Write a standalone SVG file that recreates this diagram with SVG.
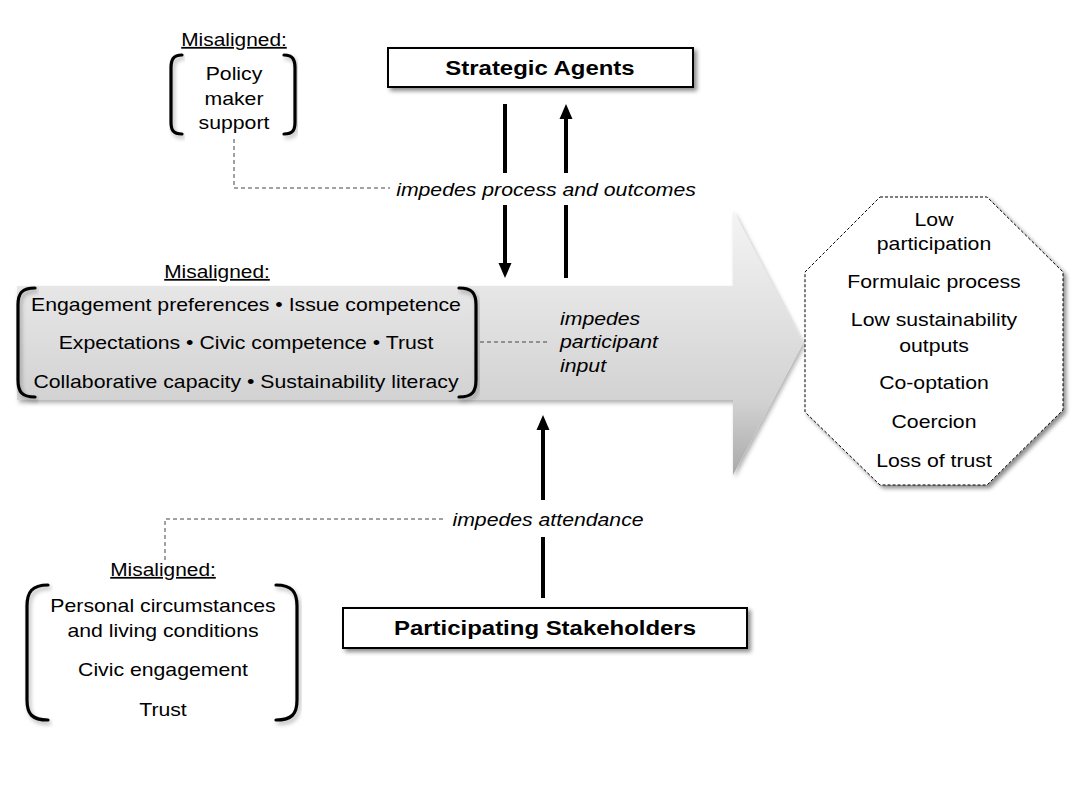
<svg xmlns="http://www.w3.org/2000/svg" width="1080" height="810" viewBox="0 0 1080 810">
<defs>
<linearGradient id="arrowGrad" x1="0" y1="210" x2="0" y2="475" gradientUnits="userSpaceOnUse">
<stop offset="0" stop-color="#f4f4f4"/>
<stop offset="0.3" stop-color="#e6e6e6"/>
<stop offset="0.72" stop-color="#d2d2d2"/>
<stop offset="1" stop-color="#a9a9a9"/>
</linearGradient>
<filter id="shadow" x="-10%" y="-20%" width="130%" height="150%">
<feDropShadow dx="3" dy="3" stdDeviation="2" flood-color="#000" flood-opacity="0.45"/>
</filter>
<filter id="shadowSoft" x="-10%" y="-20%" width="130%" height="150%">
<feDropShadow dx="2" dy="3" stdDeviation="2" flood-color="#000" flood-opacity="0.3"/>
</filter>
</defs>
<style>
text { font-family: "Liberation Sans", Arial, sans-serif; font-size: 18px; fill: #000; }
.b { font-weight: bold; font-size: 20.3px; }
.i { font-style: italic; }
.u { text-decoration: underline; font-size: 17.7px; }
.box { fill: #fff; stroke: #000; stroke-width: 2; }
.brk { fill: none; stroke: #000; stroke-width: 3.2; stroke-linecap: round; }
.dash { fill: none; stroke: #444; stroke-width: 1; stroke-dasharray: 4 3; }
.shaft { fill: none; stroke: #000; stroke-width: 4; }
.head { fill: #000; }
</style>
<rect width="1080" height="810" fill="#fff"/>

<g id="main-arrow">
<polygon points="17,286 733,286 733,210 803,343 733,475 733,400 17,400" fill="url(#arrowGrad)" filter="url(#shadowSoft)"/>
</g>

<g id="factors-box">
<path class="brk" d="M35,288 C22,288 18,293 18,305 L18,380 C18,392 22,397 35,397" filter="url(#shadowSoft)"/>
<path class="brk" d="M459,288 C472,288 476,293 476,305 L476,380 C476,392 472,397 459,397" filter="url(#shadowSoft)"/>
<g transform="translate(217 0) scale(1.18 1)"><text class="u" x="0" y="278" text-anchor="middle">Misaligned:</text></g>
<g transform="translate(246 0) scale(1.18 1)">
<text x="0" y="311" text-anchor="middle">Engagement preferences • Issue competence</text>
<text x="0" y="349" text-anchor="middle">Expectations • Civic competence • Trust</text>
<text x="0" y="388" text-anchor="middle">Collaborative capacity • Sustainability literacy</text>
</g>
</g>

<g id="strategic-agents">
<rect class="box" x="388" y="48" width="305" height="39" filter="url(#shadow)"/>
<g transform="translate(540 0) scale(1.18 1)"><text class="b" x="0" y="75" text-anchor="middle">Strategic Agents</text></g>
</g>

<g id="participating-stakeholders">
<rect class="box" x="343" y="608" width="404" height="40" filter="url(#shadow)"/>
<g transform="translate(545 0) scale(1.18 1)"><text class="b" x="0" y="635" text-anchor="middle">Participating Stakeholders</text></g>
</g>

<g id="policy-maker">
<path class="brk" d="M182,55 C173,55 171,60 171,68 L171,122 C171,130 173,134 182,134" filter="url(#shadowSoft)"/>
<path class="brk" d="M284,55 C293,55 295,60 295,68 L295,122 C295,130 293,134 284,134" filter="url(#shadowSoft)"/>
<g transform="translate(234 0) scale(1.18 1)">
<text class="u" x="0" y="46" text-anchor="middle">Misaligned:</text>
<text x="0" y="80" text-anchor="middle">Policy</text>
<text x="0" y="105" text-anchor="middle">maker</text>
<text x="0" y="129" text-anchor="middle">support</text>
</g>
</g>

<g id="personal-factors">
<path class="brk" d="M48,585 C32,585 27,592 27,606 L27,700 C27,714 32,720 48,720" filter="url(#shadowSoft)"/>
<path class="brk" d="M276,585 C292,585 297,592 297,606 L297,700 C297,714 292,720 276,720" filter="url(#shadowSoft)"/>
<g transform="translate(163 0) scale(1.18 1)">
<text class="u" x="0" y="576" text-anchor="middle">Misaligned:</text>
<text x="0" y="612" text-anchor="middle">Personal circumstances</text>
<text x="0" y="637" text-anchor="middle">and living conditions</text>
<text x="0" y="676" text-anchor="middle">Civic engagement</text>
<text x="0" y="716" text-anchor="middle">Trust</text>
</g>
</g>

<g id="outcomes">
<polygon points="880,197 987,197 1063,272 1063,410 987,485 880,485 805,412 805,272" fill="#fff" stroke="#000" stroke-width="1" stroke-dasharray="3 2" filter="url(#shadow)"/>
<g transform="translate(934 0) scale(1.18 1)">
<text x="0" y="226" text-anchor="middle">Low</text>
<text x="0" y="250" text-anchor="middle">participation</text>
<text x="0" y="288" text-anchor="middle">Formulaic process</text>
<text x="0" y="326" text-anchor="middle">Low sustainability</text>
<text x="0" y="352" text-anchor="middle">outputs</text>
<text x="0" y="389" text-anchor="middle">Co-optation</text>
<text x="0" y="428" text-anchor="middle">Coercion</text>
<text x="0" y="467" text-anchor="middle">Loss of trust</text>
</g>
</g>

<g id="connectors">
<line class="shaft" x1="505" y1="104" x2="505" y2="173"/>
<line class="shaft" x1="505" y1="205" x2="505" y2="265"/>
<polygon class="head" points="498.5,263 511.5,263 505,278"/>
<line class="shaft" x1="566" y1="278" x2="566" y2="205"/>
<line class="shaft" x1="566" y1="173" x2="566" y2="117"/>
<polygon class="head" points="559.5,119 572.5,119 566,104"/>
<line class="shaft" x1="543" y1="598" x2="543" y2="537"/>
<line class="shaft" x1="543" y1="500" x2="543" y2="428"/>
<polygon class="head" points="536.5,430 549.5,430 543,415"/>
<polyline class="dash" points="234,139 234,188 390,188"/>
<line class="dash" x1="480" y1="342" x2="550" y2="342"/>
<polyline class="dash" points="165,560 165,519 443,519"/>
</g>

<g id="labels">
<g transform="translate(546 0) scale(1.18 1)"><text class="i" x="0" y="196" text-anchor="middle">impedes process and outcomes</text></g>
<g transform="translate(560 0) scale(1.18 1)">
<text class="i" x="0" y="325">impedes</text>
<text class="i" x="0" y="348">participant</text>
<text class="i" x="0" y="372">input</text>
</g>
<g transform="translate(548 0) scale(1.18 1)"><text class="i" x="0" y="526" text-anchor="middle">impedes attendance</text></g>
</g>
</svg>
